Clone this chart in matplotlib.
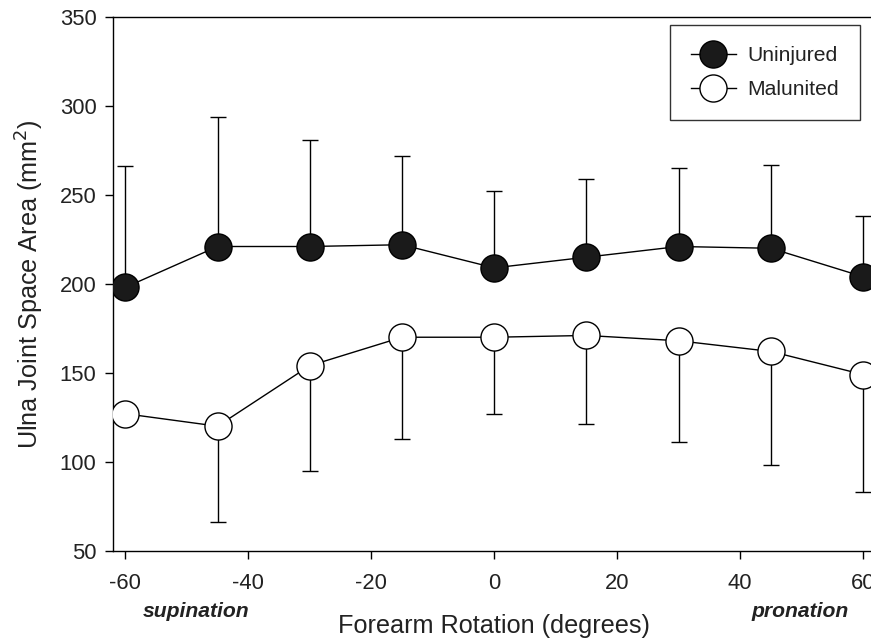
import matplotlib
matplotlib.use("Agg")
import numpy as np
import matplotlib.pyplot as plt

# forearm rotation angles (degrees)
angles = [-60, -45, -30, -15, 0, 15, 30, 45, 60]

# uninjured mean and upper SD bound
uninjured = [198, 221, 221, 222, 209, 215, 221, 220, 204]
uninjured_upper = [266, 294, 281, 272, 252, 259, 265, 267, 238]

# malunited mean and lower SD bound
malunited = [127, 120, 154, 170, 170, 171, 168, 162, 149]
malunited_lower = [121, 66, 95, 113, 127, 121, 111, 98, 83]

plt.rcParams["font.family"] = ["Liberation Sans", "DejaVu Sans"]
plt.rcParams["axes.unicode_minus"] = False


def main():
    fig = plt.figure(figsize=(8.71, 6.42), dpi=100)
    ax = fig.add_axes([0.1297, 0.1422, 0.8755, 0.8313])

    x = np.array(angles)
    u = np.array(uninjured)
    m = np.array(malunited)
    u_err = np.array(uninjured_upper) - u
    m_err = m - np.array(malunited_lower)

    ms = 19.5
    # error bars (one sided) drawn underneath markers
    ax.errorbar(x, u, yerr=[np.zeros_like(u_err), u_err], fmt="none",
                ecolor="black", elinewidth=1.0, capsize=5.5, capthick=1.0, zorder=1)
    ax.errorbar(x, m, yerr=[m_err, np.zeros_like(m_err)], fmt="none",
                ecolor="black", elinewidth=1.0, capsize=5.5, capthick=1.0, zorder=1)

    ax.plot(x, u, "-o", color="black", lw=1.0, ms=ms, mfc="#1a1a1a",
            mec="black", mew=1.0, label="Uninjured", zorder=3)
    ax.plot(x, m, "-o", color="black", lw=1.0, ms=ms, mfc="white",
            mec="black", mew=1.0, label="Malunited", zorder=3)

    ax.set_xlim(-62, 62)
    ax.set_ylim(50, 350)
    ax.set_xticks([-60, -40, -20, 0, 20, 40, 60])
    ax.set_yticks([50, 100, 150, 200, 250, 300, 350])

    ax.tick_params(axis="both", direction="out", length=5.8, width=1.0,
                   labelsize=15.8, colors="black", labelcolor="#222222")
    ax.tick_params(axis="x", pad=10)
    ax.tick_params(axis="y", pad=6)
    for s in ax.spines.values():
        s.set_linewidth(1.0)

    ax.set_xlabel("Forearm Rotation (degrees)", fontsize=18.2, labelpad=15,
                  color="#222222")
    ax.set_ylabel("Ulna Joint Space Area (mm$^2$)", fontsize=18.2, labelpad=10,
                  color="#222222")

    tr = ax.get_xaxis_transform()
    ax.text(-48.5, -0.113, "supination", transform=tr, ha="center", va="center",
            fontsize=15.2, fontweight="bold", fontstyle="italic", color="#222222")
    ax.text(49.7, -0.113, "pronation", transform=tr, ha="center", va="center",
            fontsize=15.2, fontweight="bold", fontstyle="italic", color="#222222")

    leg = ax.legend(loc="upper right", bbox_to_anchor=(860 / 871, 1 - 25 / 642),
                    bbox_transform=fig.transFigure, borderaxespad=0,
                    fontsize=15.2, frameon=True, fancybox=False,
                    handlelength=2.1, handletextpad=0.55,
                    borderpad=1.0, labelspacing=0.7)
    leg.get_frame().set_edgecolor("black")
    leg.get_frame().set_linewidth(1.0)
    for t in leg.get_texts():
        t.set_color("#222222")

    fig.savefig("out.png", dpi=100)


if __name__ == "__main__":
    main()
